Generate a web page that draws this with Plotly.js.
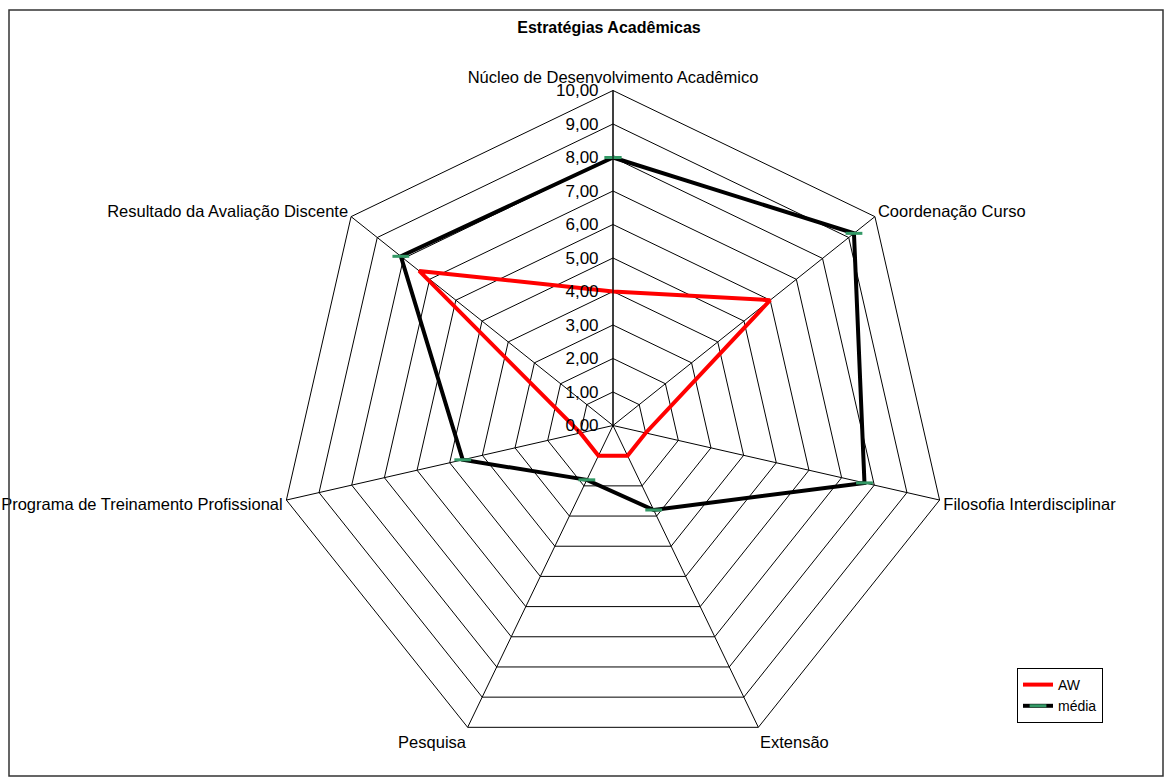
<!DOCTYPE html>
<html>
<head>
<meta charset="utf-8">
<script src="https://cdn.plot.ly/plotly-3.0.1.min.js"></script>
<style>html,body{margin:0;padding:0;background:#fff;}#chart{width:1165px;height:778px;}</style>
</head>
<body>
<div id="chart"></div>
<script>
const categories = ["Núcleo de Desenvolvimento Acadêmico", "Coordenação Curso", "Filosofia Interdisciplinar", "Extensão", "Pesquisa", "Programa de Treinamento Profissional", "Resultado da Avaliação Discente"];
const awValues = [4.0, 6.0, 1.0, 1.0, 1.0, 1.0, 7.4];
const mediaValues = [8.0, 9.2, 7.7, 2.8, 1.8, 4.6, 8.1];
const radialTicks = [0,1,2,3,4,5,6,7,8,9,10];

const close = a => a.concat([a[0]]);

const traces = [
  {
    type: 'scatterpolar', name: 'AW', mode: 'lines',
    r: close(awValues), theta: close(categories),
    line: {color: '#ff0000', width: 4}
  },
  {
    type: 'scatterpolar', name: 'média', mode: 'lines+markers',
    r: close(mediaValues), theta: close(categories),
    line: {color: '#000000', width: 4},
    marker: {symbol: 'line-ew', size: 12, color: '#339966', line: {color: '#339966', width: 3}}
  }
];

const cx = 613, cy = 425.5, R = 335, W = 1165, H = 778;
const layout = {
  width: W, height: H,
  margin: {l: 0, r: 0, t: 0, b: 0},
  paper_bgcolor: '#fff',
  font: {family: 'Liberation Sans, Arial, sans-serif', color: '#000', size: 16},
  separators: ',.',
  title: {text: '<b>Estratégias Acadêmicas</b>', x: 609/W, xanchor: 'center', y: 1 - 27/H, yanchor: 'middle', font: {size: 16, color: '#000'}},
  showlegend: true,
  legend: {
    x: 1017/W, y: 1 - 668/H, xanchor: 'left', yanchor: 'top',
    bordercolor: '#000', borderwidth: 1, bgcolor: '#fff',
    font: {size: 14}, tracegroupgap: 0
  },
  polar: {
    domain: {x: [(cx - R)/W, (cx + R)/W], y: [(H - cy - R)/H, (H - cy + R)/H]},
    gridshape: 'linear',
    bgcolor: '#fff',
    radialaxis: {
      range: [0, 10], tickvals: radialTicks, tickformat: '.2f',
      angle: 90, tickangle: 90, side: 'counterclockwise',
      showline: true, linecolor: '#000', linewidth: 1,
      gridcolor: '#000', gridwidth: 1,
      ticks: 'outside', ticklen: 8, tickcolor: 'rgba(0,0,0,0)',
      tickfont: {size: 17, color: '#000'}
    },
    angularaxis: {
      rotation: 90, direction: 'clockwise',
      showline: true, linecolor: '#000', linewidth: 1,
      gridcolor: '#000', gridwidth: 1, ticks: '',
      tickfont: {size: 16.5, color: '#000'}
    }
  },
  shapes: [
    {type: 'rect', xref: 'paper', yref: 'paper', x0: 9/W, x1: 1163/W, y0: 1 - 776/H, y1: 1 - 10/H, line: {color: '#333', width: 1.5}}
  ]
};

Plotly.newPlot('chart', traces, layout, {displayModeBar: false, staticPlot: true});
</script>
</body>
</html>
